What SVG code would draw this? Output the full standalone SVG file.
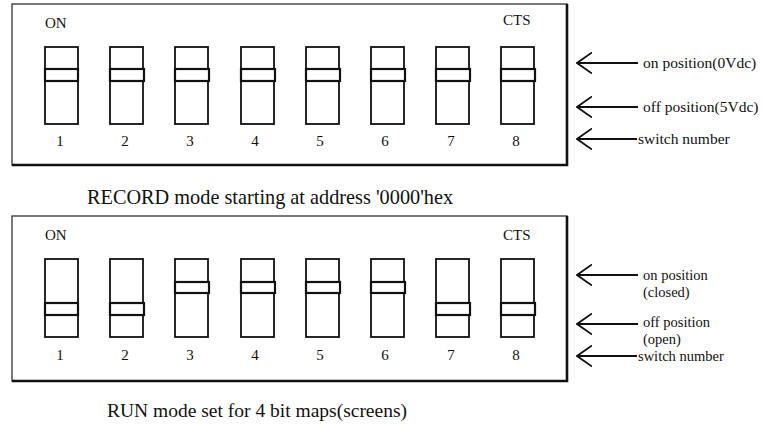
<svg xmlns="http://www.w3.org/2000/svg" width="762" height="425" viewBox="0 0 762 425">
<defs>
<style>
text{font-family:"Liberation Serif","Times New Roman",serif;fill:#111}
.box{fill:none;stroke:#222;stroke-width:1.2}
.shadow{stroke:#111;stroke-width:2.6;fill:none}
.sw{fill:#fff;stroke:#111;stroke-width:1.8}
.lev{fill:#fff;stroke:#111;stroke-width:2.2}
.num{font-size:15px;text-anchor:middle}
.tag{font-size:15px}
.lbl{font-size:15.5px}
.lbs{font-size:14.5px}
.cap{font-size:20.3px}
.arr{stroke:#111;stroke-width:1.8;fill:none}
</style>
<marker id="head" viewBox="0 0 16 22" refX="15" refY="11" markerWidth="16" markerHeight="22" markerUnits="userSpaceOnUse" orient="auto-start-reverse">
<path d="M0,0.5 L15,11 L0,21.5" fill="none" stroke="#111" stroke-width="1.8"/>
</marker>
</defs>

<g id="panel-record">
<rect class="box" x="12" y="4" width="555" height="161"/>
<path class="shadow" d="M12,165 H567 V4"/>
<text class="tag" x="45" y="28">ON</text>
<text class="tag" x="503" y="25">CTS</text>
</g>

<g id="record-switches">
<g id="r-sw1"><rect class="sw" x="45" y="47" width="33" height="77"/><rect class="lev" x="45" y="69" width="33" height="12"/><text class="num" x="60" y="146">1</text></g>
<g id="r-sw2"><rect class="sw" x="110" y="47" width="33" height="77"/><rect class="lev" x="110" y="69" width="34" height="12"/><text class="num" x="125" y="146">2</text></g>
<g id="r-sw3"><rect class="sw" x="175" y="47" width="33" height="77"/><rect class="lev" x="175" y="69" width="34" height="12"/><text class="num" x="190" y="146">3</text></g>
<g id="r-sw4"><rect class="sw" x="241" y="47" width="33" height="77"/><rect class="lev" x="241" y="69" width="34" height="12"/><text class="num" x="255" y="146">4</text></g>
<g id="r-sw5"><rect class="sw" x="306" y="47" width="33" height="77"/><rect class="lev" x="306" y="69" width="34" height="12"/><text class="num" x="320" y="146">5</text></g>
<g id="r-sw6"><rect class="sw" x="371" y="47" width="33" height="77"/><rect class="lev" x="371" y="69" width="34" height="12"/><text class="num" x="385" y="146">6</text></g>
<g id="r-sw7"><rect class="sw" x="436" y="47" width="33" height="77"/><rect class="lev" x="436" y="69" width="34" height="12"/><text class="num" x="451" y="146">7</text></g>
<g id="r-sw8"><rect class="sw" x="501" y="47" width="33" height="77"/><rect class="lev" x="501" y="69" width="34" height="12"/><text class="num" x="516" y="146">8</text></g>
</g>

<g id="record-labels">
<text class="lbl" x="643" y="68">on position(0Vdc)</text>
<text class="lbl" x="643" y="112">off position(5Vdc)</text>
<text class="lbl" x="638" y="144">switch number</text>
</g>

<text id="caption-record" class="cap" x="87" y="204">RECORD mode starting at address '0000'hex</text>

<g id="panel-run">
<rect class="box" x="12" y="216" width="555" height="165"/>
<path class="shadow" d="M12,381 H567 V216"/>
<text class="tag" x="45" y="240">ON</text>
<text class="tag" x="503" y="240">CTS</text>
</g>

<g id="run-switches">
<g id="u-sw1"><rect class="sw" x="45" y="259" width="33" height="78"/><rect class="lev" x="45" y="303" width="33" height="12"/><text class="num" x="60" y="360">1</text></g>
<g id="u-sw2"><rect class="sw" x="110" y="259" width="33" height="78"/><rect class="lev" x="110" y="303" width="34" height="12"/><text class="num" x="125" y="360">2</text></g>
<g id="u-sw3"><rect class="sw" x="175" y="259" width="33" height="78"/><rect class="lev" x="175" y="282" width="34" height="11"/><text class="num" x="190" y="360">3</text></g>
<g id="u-sw4"><rect class="sw" x="241" y="259" width="33" height="78"/><rect class="lev" x="241" y="282" width="34" height="11"/><text class="num" x="255" y="360">4</text></g>
<g id="u-sw5"><rect class="sw" x="306" y="259" width="33" height="78"/><rect class="lev" x="306" y="282" width="34" height="11"/><text class="num" x="320" y="360">5</text></g>
<g id="u-sw6"><rect class="sw" x="371" y="259" width="33" height="78"/><rect class="lev" x="371" y="282" width="34" height="11"/><text class="num" x="385" y="360">6</text></g>
<g id="u-sw7"><rect class="sw" x="436" y="259" width="33" height="78"/><rect class="lev" x="436" y="303" width="34" height="12"/><text class="num" x="451" y="360">7</text></g>
<g id="u-sw8"><rect class="sw" x="501" y="259" width="33" height="78"/><rect class="lev" x="501" y="303" width="34" height="12"/><text class="num" x="516" y="360">8</text></g>
</g>

<g id="run-labels">
<text class="lbs" x="643" y="280">on position</text>
<text class="lbs" x="643" y="297">(closed)</text>
<text class="lbs" x="643" y="327">off position</text>
<text class="lbs" x="643" y="344">(open)</text>
<text class="lbs" x="638" y="361">switch number</text>
</g>

<text id="caption-run" class="cap" x="107" y="417" style="font-size:19.5px">RUN mode set for 4 bit maps(screens)</text>

<g id="connectors">
<path class="arr" marker-start="url(#head)" d="M577,63 H638"/>
<path class="arr" marker-start="url(#head)" d="M577,107 H638"/>
<path class="arr" marker-start="url(#head)" d="M577,139 H637"/>
<path class="arr" marker-start="url(#head)" d="M577,275 H638"/>
<path class="arr" marker-start="url(#head)" d="M577,324 H638"/>
<path class="arr" marker-start="url(#head)" d="M577,356 H637"/>
</g>
</svg>
